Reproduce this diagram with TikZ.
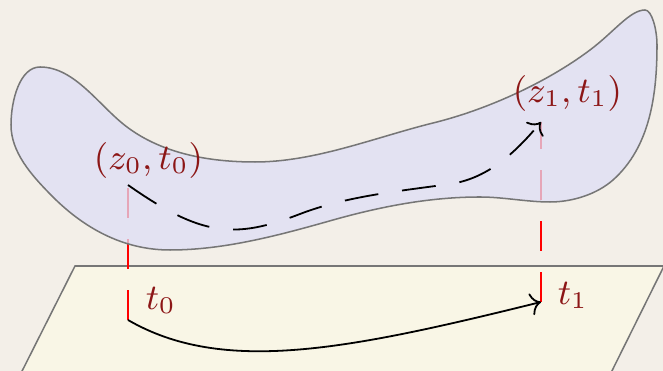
\documentclass[tikz,border=0pt]{standalone}
\usetikzlibrary{arrows.meta}
\definecolor{bgc}{RGB}{243,239,232}
\definecolor{planec}{RGB}{249,246,230}
\definecolor{blobc}{RGB}{222,222,246}
\definecolor{edgegray}{RGB}{118,118,118}
\definecolor{labred}{RGB}{140,22,22}
\begin{document}
\begin{tikzpicture}[x=0.25pt,y=-0.25pt,
  planestyle/.style={draw=edgegray, line width=0.38pt, fill=planec},
  blobstyle/.style={draw=edgegray, line width=0.38pt, fill=blobc, fill opacity=0.75, draw opacity=1},
  redline/.style={red, line width=0.45pt, dash pattern=on 7.5pt off 5.25pt},
  pathline/.style={black, line width=0.45pt, -{Computer Modern Rightarrow[length=2.6pt,width=5.6pt]}},
  lab/.style={text=labred, inner sep=0pt, anchor=base west, font=\small}]
\useasboundingbox (0,0) rectangle (663,371);
\fill[bgc] (0,0) rectangle (663,371);
\begin{scope}
\clip (0,0) rectangle (663,371);
\draw[planestyle] (75,266) -- (664,266) -- (600,395) -- (10,395) -- cycle;
\end{scope}
\coordinate (A0) at (128,320);
\coordinate (B0) at (128,185);
\coordinate (A1) at (541,302);
\coordinate (B1) at (541,122);
\coordinate (M1) at (300,214);
\coordinate (M2) at (450,184);
\draw[redline] (A0) -- (B0);
\draw[redline] (A1) -- (B1);
\draw[blobstyle] (40,67) .. controls (75,67) and (99,106) .. (127,127)
 .. controls (163,154) and (210,162) .. (255,162)
 .. controls (315,162) and (375,137.4) .. (433,123)
 .. controls (486,110) and (546,83) .. (590,50)
 .. controls (614,32) and (630,10) .. (645,10)
 .. controls (652,10) and (657,30) .. (657,45)
 .. controls (657,95) and (650,147) .. (613,180)
 .. controls (596.5,194.5) and (572,202) .. (550,202)
 .. controls (527,202) and (503,197) .. (480,197)
 .. controls (430,197) and (381,206.5) .. (333,220)
 .. controls (280,235) and (225,250) .. (170,250)
 .. controls (123,250) and (83,228) .. (50,194)
 .. controls (31,174.6) and (11,152) .. (11,125)
 .. controls (11,100) and (20,67) .. (40,67) -- cycle;
\draw[pathline, dash pattern=on 8.5pt off 6pt] (B0) .. controls (202,237) and (235,239) .. (M1)
  .. controls (346.7,196) and (400.5,191) .. (M2)
  .. controls (490,178.4) and (518.5,148.8) .. (B1);
\draw[pathline] (A0) .. controls (223,375) and (347,350) .. (A1);
\node[lab] (L0) at (93,170) {$(z_0,t_0)$};
\node[lab] (L1) at (512,103) {$(z_1,t_1)$};
\node[lab] (T0) at (145,310) {$t_0$};
\node[lab] (T1) at (557,305) {$t_1$};
\end{tikzpicture}
\end{document}
